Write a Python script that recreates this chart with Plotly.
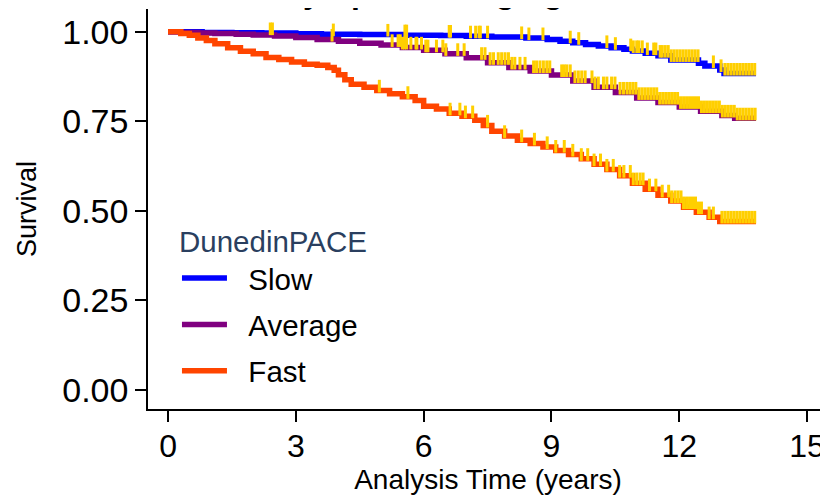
import numpy as np
import plotly.graph_objects as go

# Kaplan-Meier step estimates (years, survival)
slow_t = [0, 0.8, 1.5, 2.2, 3.0, 3.6, 4.5, 5.5, 6.4, 7.0, 7.6, 8.4, 8.9, 9.2, 9.5, 9.8,
          10.1, 10.4, 10.7, 10.9, 11.2, 11.5, 11.8, 12.45, 12.6, 12.95, 13.05, 13.8]
slow_s = [1.0, 0.998, 0.997, 0.996, 0.994, 0.993, 0.992, 0.990, 0.989, 0.987, 0.985, 0.982,
          0.978, 0.973, 0.969, 0.964, 0.960, 0.955, 0.951, 0.946, 0.940, 0.933, 0.921, 0.912,
          0.904, 0.893, 0.883, 0.883]

avg_t = [0, 0.3, 0.7, 1.1, 1.6, 2.0, 2.5, 3.0, 3.5, 4.0, 4.5, 5.0, 5.5, 6.0, 6.5, 7.0, 7.5,
         8.0, 8.5, 9.0, 9.5, 10.0, 10.5, 11.0, 11.5, 12.0, 12.5, 13.0, 13.3, 13.8]
avg_s = [1.0, 0.998, 0.996, 0.995, 0.993, 0.991, 0.988, 0.984, 0.978, 0.973, 0.968, 0.963,
         0.956, 0.948, 0.938, 0.927, 0.913, 0.900, 0.890, 0.879, 0.862, 0.845, 0.830, 0.815,
         0.802, 0.790, 0.778, 0.766, 0.758, 0.758]

fast_t = [0, 0.3, 0.5, 0.7, 0.9, 1.1, 1.4, 1.7, 2.0, 2.3, 2.6, 2.9, 3.2, 3.5, 3.75, 3.9, 4.0,
          4.15, 4.3, 4.6, 4.9, 5.2, 5.5, 5.8, 6.0, 6.3, 6.6, 6.9, 7.2, 7.4, 7.6, 7.9, 8.2, 8.5,
          8.8, 9.1, 9.4, 9.7, 10.0, 10.3, 10.6, 10.9, 11.2, 11.5, 11.8, 12.1, 12.4, 12.7, 12.95, 13.8]
fast_s = [1.0, 0.995, 0.990, 0.982, 0.975, 0.966, 0.955, 0.945, 0.938, 0.928, 0.922, 0.915,
          0.909, 0.906, 0.900, 0.892, 0.880, 0.866, 0.853, 0.845, 0.836, 0.827, 0.818, 0.808,
          0.792, 0.784, 0.772, 0.764, 0.753, 0.738, 0.722, 0.709, 0.697, 0.688, 0.678, 0.668,
          0.657, 0.645, 0.630, 0.615, 0.598, 0.577, 0.560, 0.543, 0.527, 0.510, 0.496, 0.482,
          0.470, 0.470]

# censoring times (tick marks)
slow_cens = [2.4, 2.45, 3.88, 5.16, 5.56, 5.6, 6.6, 6.63, 7.1, 7.22, 7.3, 7.33, 7.5, 8.3,
             8.47, 8.8, 9.44, 9.64, 10.3, 10.5, 10.86, 10.92, 11.0, 11.05, 11.13, 11.25, 11.4,
             11.45, 11.55, 11.6, 11.67, 11.74, 11.81, 11.88, 11.95, 12.02, 12.09, 12.16, 12.23,
             12.3, 12.37, 12.44, 12.8, 12.98, 13.07, 13.14, 13.21, 13.28, 13.35, 13.42, 13.49,
             13.56, 13.63, 13.7, 13.77]
avg_cens = [3.85, 5.26, 5.4, 5.45, 5.5, 5.55, 5.6, 5.7, 5.82, 5.84, 5.95, 6.05, 6.1, 6.3,
            6.45, 6.52, 6.8, 6.95, 7.36, 7.44, 7.56, 7.64, 7.75, 7.83, 7.91, 7.99, 8.07, 8.14,
            8.26, 8.38, 8.58, 8.65, 8.73, 8.81, 8.89, 8.96, 9.24, 9.3, 9.36, 9.44, 9.55, 9.63,
            9.71, 9.79, 9.95, 10.02, 10.1, 10.22, 10.3, 10.41, 10.49, 10.61, 10.69, 10.77,
            10.84, 10.91, 10.98, 11.05, 11.12, 11.19, 11.26, 11.33, 11.4, 11.47, 11.54, 11.61,
            11.68, 11.75, 11.82, 11.89, 11.96, 12.03, 12.1, 12.17, 12.24, 12.31, 12.38, 12.45,
            12.52, 12.59, 12.66, 12.73, 12.8, 12.87, 12.94, 13.01, 13.08, 13.15, 13.22, 13.29,
            13.36, 13.43, 13.5, 13.57, 13.64, 13.71, 13.78]
fast_cens = [4.96, 5.63, 6.62, 6.85, 6.98, 7.15, 7.5, 7.9, 8.3, 8.6, 8.9, 9.1, 9.3, 9.5, 9.7,
             9.85, 10.0, 10.15, 10.3, 10.45, 10.6, 10.7, 10.85, 10.92, 11.0, 11.08, 11.15,
             11.3, 11.45, 11.6, 11.75, 11.82, 11.9, 11.97, 12.04, 12.1, 12.17, 12.24, 12.31,
             12.38, 12.45, 12.52, 12.7, 12.8, 13.0, 13.07, 13.14, 13.21, 13.28, 13.35, 13.42,
             13.49, 13.56, 13.63, 13.7, 13.77]

groups = ['Slow', 'Average', 'Fast']
colors = ['#0000FF', '#800080', '#FF4500']
times = [slow_t, avg_t, fast_t]
survs = [slow_s, avg_s, fast_s]
cens = [slow_cens, avg_cens, fast_cens]

FONT = 'Liberation Sans, Arial, Helvetica, sans-serif'
PAD = '\u00a0\u00a0'  # extra gap between legend line and label

fig = go.Figure()

for g, c, t, s in zip(groups, colors, times, survs):
    fig.add_scatter(x=t, y=s, mode='lines', name=PAD + g, legendgroup=g,
                    line=dict(color=c, width=5.5, shape='hv'))

# censor ticks sit just above the curve
for g, t, s, ct in zip(groups, times, survs, cens):
    t = np.array(t)
    s = np.array(s)
    idx = np.searchsorted(t, ct, side='right') - 1
    fig.add_scatter(x=ct, y=s[idx] + 0.012, mode='markers', showlegend=False, legendgroup=g,
                    marker=dict(symbol='line-ns', size=9, color='#FFCF00',
                                line=dict(color='#FFCF00', width=3)),
                    hoverinfo='skip')

# title is mostly cut off by the top edge in the reference
fig.add_annotation(text='<b>Survival by Speed of Aging</b>', xref='paper', yref='paper',
                   x=0.0, y=1.0, xanchor='left', yanchor='bottom', yshift=-3,
                   showarrow=False, font=dict(size=32, color='black', family=FONT))

# page body adds an 8px margin, so the figure is 8px smaller than the window
fig.update_layout(
    width=820, height=490,
    margin=dict(l=140, r=0, t=1, b=89),
    plot_bgcolor='white', paper_bgcolor='white',
    font=dict(family=FONT, color='black'),
    showlegend=True,
    legend=dict(x=0.0426, y=0.4875, xanchor='left', yanchor='top',
                title=dict(text='DunedinPACE', font=dict(size=29.5, color='#2a3f5f')),
                font=dict(size=29.5, color='black'), tracegroupgap=5, itemwidth=45,
                bgcolor='rgba(0,0,0,0)'),
)

fig.update_xaxes(range=[-0.47, 15.49], tickvals=[0, 3, 6, 9, 12, 15], automargin=False,
                 showline=True, linecolor='black', linewidth=1.5,
                 ticks='outside', ticklen=11, tickwidth=1.5, tickcolor='black',
                 ticklabelstandoff=-3,
                 showgrid=False, zeroline=False, tickfont=dict(size=32),
                 title=dict(text='Analysis Time (years)', font=dict(size=28), standoff=2))
fig.update_yaxes(range=[-0.0536, 1.0633], tickvals=[0, 0.25, 0.5, 0.75, 1.0], automargin=False,
                 tickformat='.2f',
                 showline=True, linecolor='black', linewidth=1.5,
                 ticks='outside', ticklen=11, tickwidth=1.5, tickcolor='black',
                 showgrid=False, zeroline=False, tickfont=dict(size=34),
                 title=dict(text='Survival', font=dict(size=27), standoff=18))

fig.write_html('out.html')
